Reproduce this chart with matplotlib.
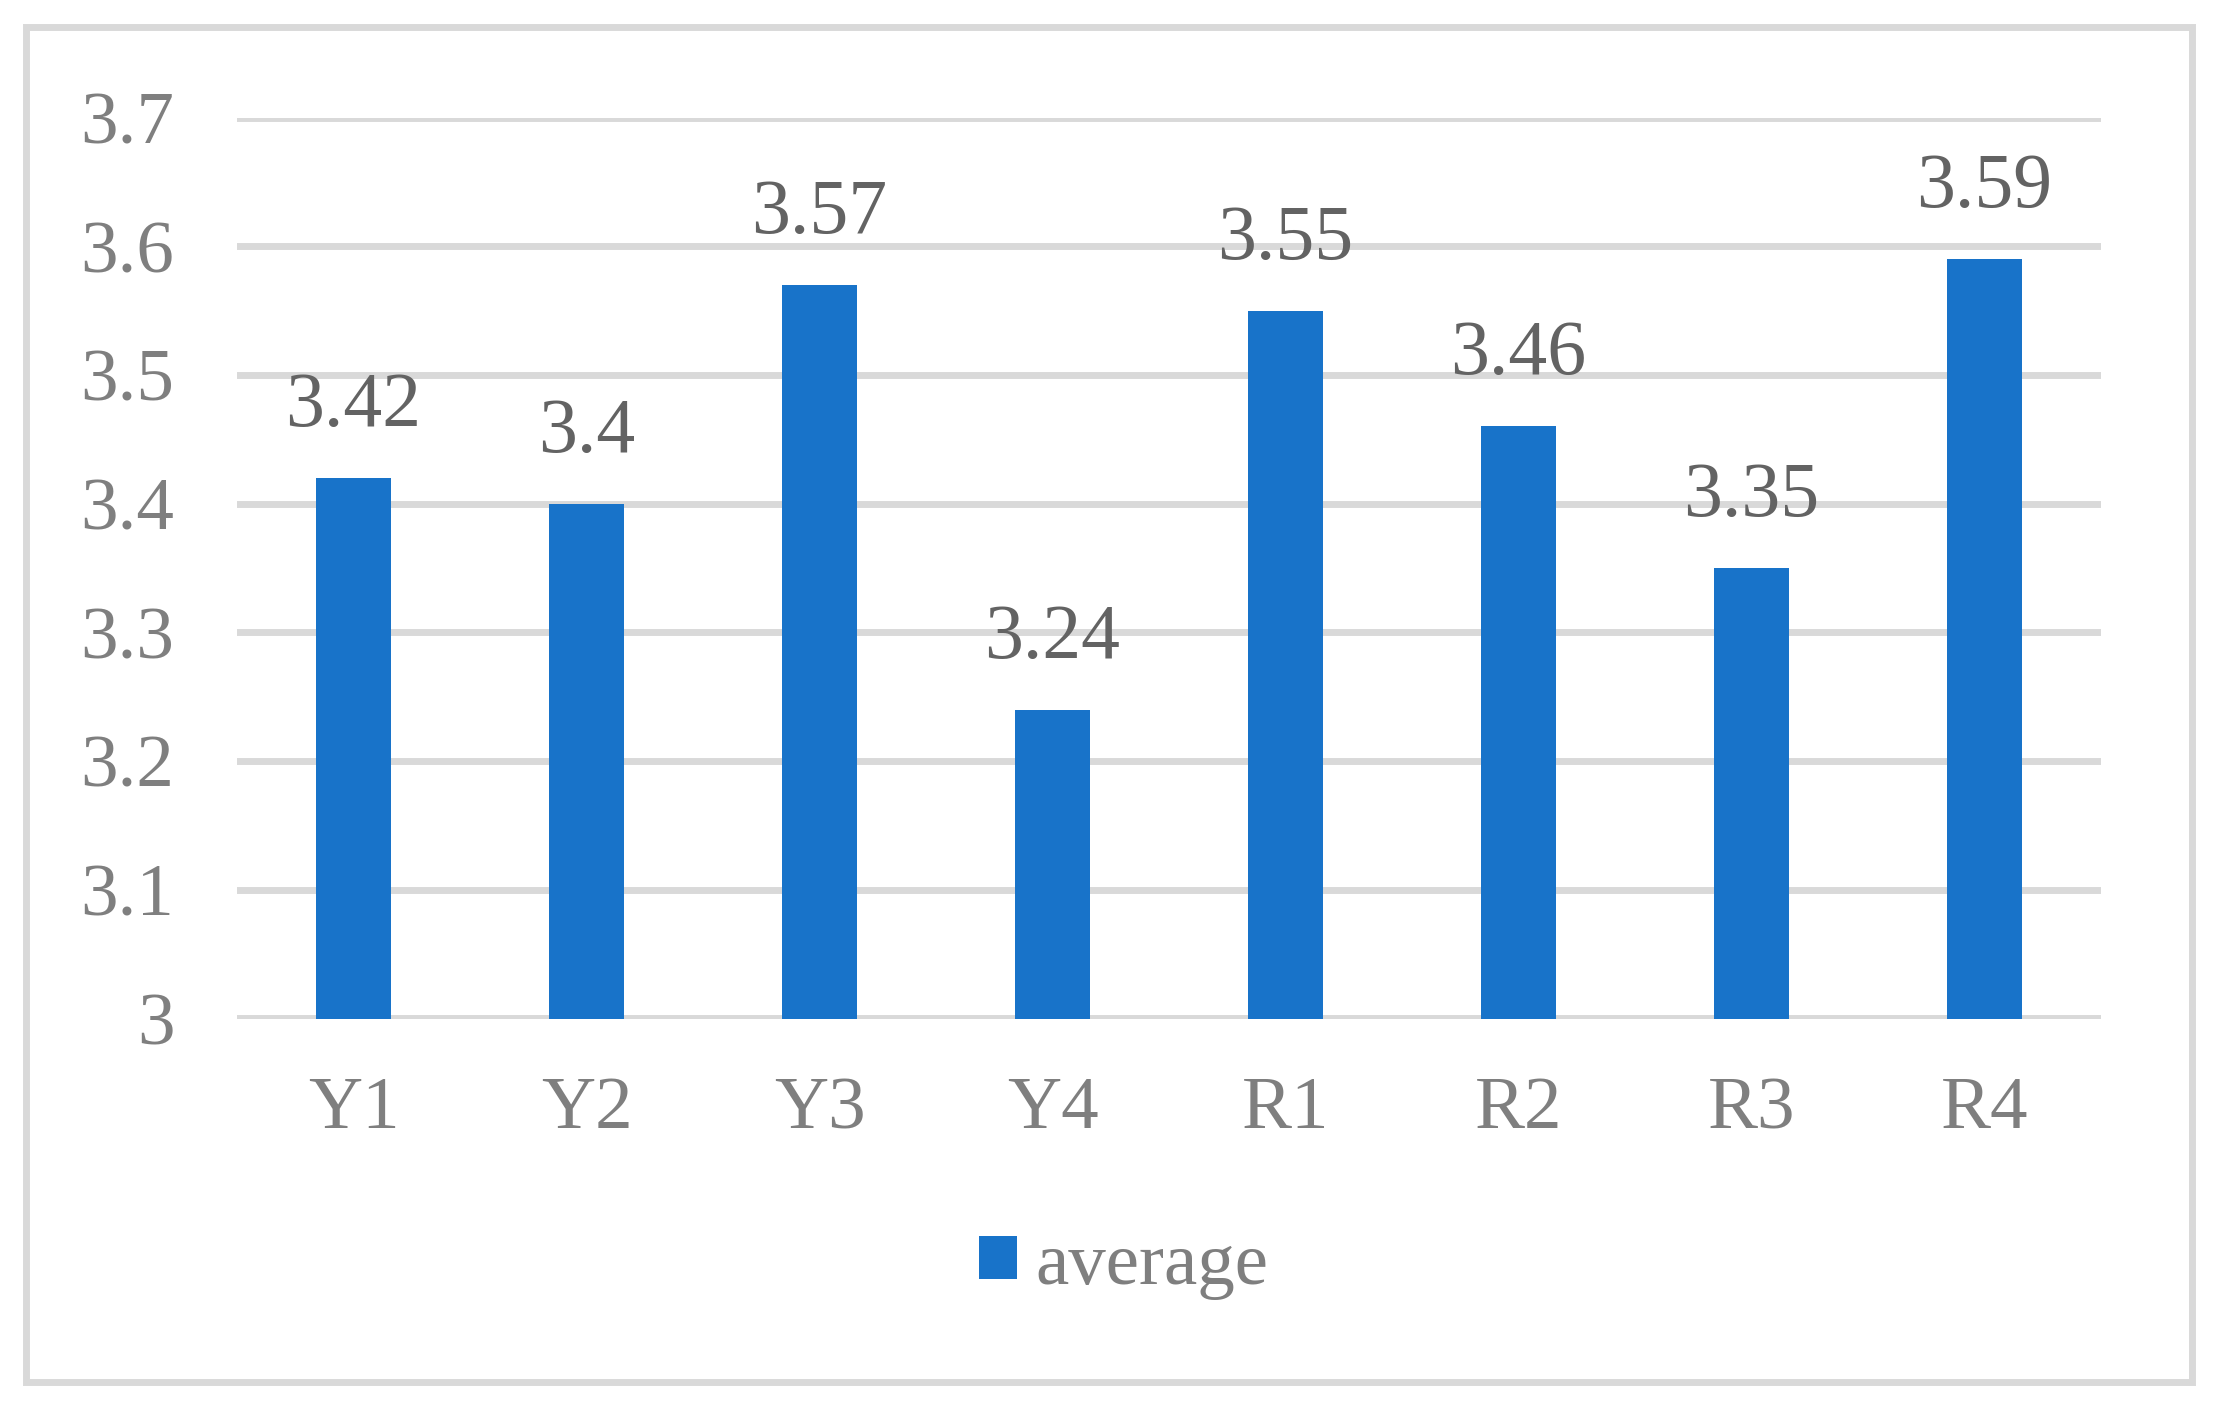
import matplotlib
matplotlib.use("Agg")
import matplotlib.pyplot as plt
from matplotlib.patches import Rectangle, Patch

categories = ["Y1", "Y2", "Y3", "Y4", "R1", "R2", "R3", "R4"]
averages = [3.42, 3.40, 3.57, 3.24, 3.55, 3.46, 3.35, 3.59]
value_labels = ["3.42", "3.4", "3.57", "3.24", "3.55", "3.46", "3.35", "3.59"]
yticks = [3.0, 3.1, 3.2, 3.3, 3.4, 3.5, 3.6, 3.7]
ytick_labels = ["3", "3.1", "3.2", "3.3", "3.4", "3.5", "3.6", "3.7"]

W, H, DPI = 2220, 1408, 100
BAR = "#1873C9"
GRID = "#D9D9D9"
TICK = "#7F7F7F"
LABEL = "#636363"

plt.rcParams['font.family'] = ['Liberation Serif', 'DejaVu Serif']

fig = plt.figure(figsize=(W / DPI, H / DPI), dpi=DPI)
fig.patch.set_facecolor("white")

# outer frame
fig.patches.append(Rectangle((26 / W, 1 - 1382 / H), (2192 - 26) / W, (1382 - 27) / H,
                             transform=fig.transFigure, fill=False,
                             edgecolor=GRID, linewidth=5.0, zorder=0))

left, right = 237 / W, 2101 / W
ytop, ybot = 117.6, 1018.5
ax = fig.add_axes([left, 1 - ybot / H, right - left, (ybot - ytop) / H])

x = list(range(len(categories)))
ax.bar(x, [v - 3.0 for v in averages], bottom=3.0, width=0.32, color=BAR, zorder=3)

for xi, v, lab in zip(x, averages, value_labels):
    ax.annotate(lab, (xi, v), xytext=(0, 37.5), textcoords="offset points",
                ha="center", va="baseline", fontsize=56, color=LABEL)

ax.set_xlim(-0.5, len(categories) - 0.5)
ax.set_ylim(3.0, 3.7)
ax.set_yticks(yticks)
ax.set_yticklabels(ytick_labels)
ax.set_xticks(x)
ax.set_xticklabels(categories)
ax.tick_params(axis="y", length=0, pad=45, labelsize=54, labelcolor=TICK)
ax.tick_params(axis="x", length=0, pad=42, labelsize=54, labelcolor=TICK)
ax.grid(axis="y", color=GRID, linewidth=5.0, zorder=0)
ax.set_axisbelow(True)
for s in ax.spines.values():
    s.set_visible(False)
ax.set_facecolor("none")

handle = Patch(facecolor=BAR, edgecolor="none", label="average")
fig.legend(handles=[handle], loc="center", bbox_to_anchor=(1124 / W, 1 - 1266 / H),
           frameon=False, fontsize=54, handlelength=0.5, handleheight=0.5,
           handletextpad=0.25, labelcolor=TICK)

fig.savefig("out.png", dpi=DPI, facecolor="white")
